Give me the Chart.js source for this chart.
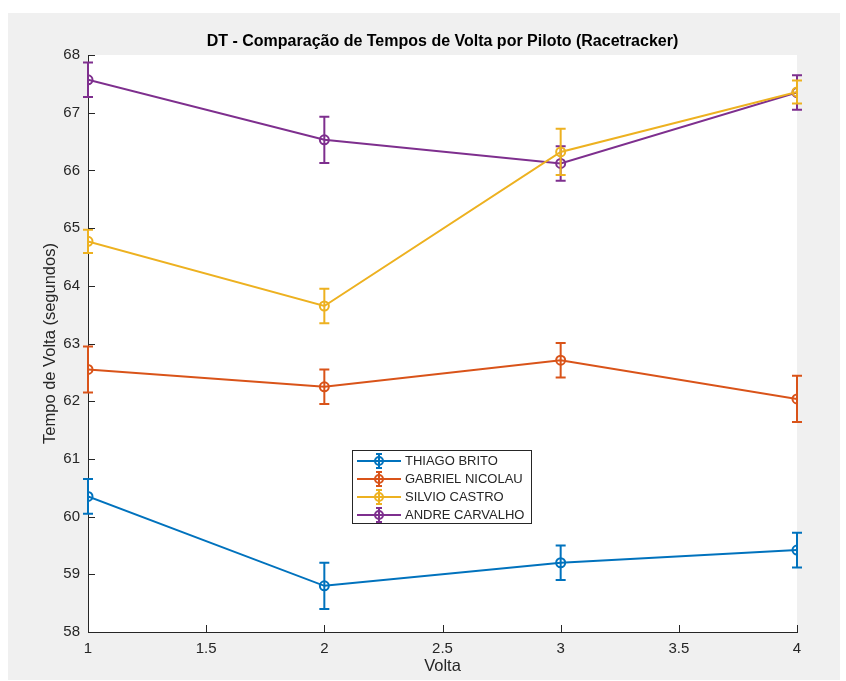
<!DOCTYPE html>
<html>
<head>
<meta charset="utf-8">
<script src="https://cdn.jsdelivr.net/npm/chart.js@4/dist/chart.umd.min.js"></script>
<style>
  html, body { margin: 0; padding: 0; background: #ffffff; }
  #wrap { width: 846px; height: 681px; }
</style>
</head>
<body>
<div id="wrap"><canvas id="c" width="846" height="681"></canvas></div>
<script>
// ---- data ----
const voltas = [1, 2, 3, 4];
const xTicks = [1, 1.5, 2, 2.5, 3, 3.5, 4];
const yTicks = [58, 59, 60, 61, 62, 63, 64, 65, 66, 67, 68];
const pilotos = ['THIAGO BRITO', 'GABRIEL NICOLAU', 'SILVIO CASTRO', 'ANDRE CARVALHO'];
const thiago = [60.35, 58.80, 59.20, 59.42];
const thiagoErr = [0.3, 0.4, 0.3, 0.3];
const gabriel = [62.55, 62.25, 62.71, 62.04];
const gabrielErr = [0.4, 0.3, 0.3, 0.4];
const silvio = [64.77, 63.65, 66.32, 67.36];
const silvioErr = [0.2, 0.3, 0.4, 0.2];
const andre = [67.57, 66.53, 66.12, 67.35];
const andreErr = [0.3, 0.4, 0.3, 0.3];
const cores = ['#0072BD', '#D95319', '#EDB120', '#7E2F8E'];

const series = [thiago, gabriel, silvio, andre];
const errs = [thiagoErr, gabrielErr, silvioErr, andreErr];

const FONT = '"Liberation Sans", Arial, Helvetica, sans-serif';
const AXC = '#262626';

const datasets = series.map((s, k) => ({
  label: pilotos[k],
  data: voltas.map((v, i) => ({ x: v, y: s[i] })),
  errors: errs[k],
  borderColor: cores[k],
  backgroundColor: cores[k],
  borderWidth: 2,
  pointStyle: 'circle',
  pointRadius: 4.5,
  pointBorderWidth: 2,
  pointBackgroundColor: 'rgba(0,0,0,0)',
  pointBorderColor: cores[k],
  tension: 0,
  fill: false
}));

const bgPlugin = {
  id: 'bg',
  beforeDraw(chart) {
    const ctx = chart.ctx, a = chart.chartArea;
    ctx.save();
    ctx.fillStyle = '#ffffff';
    ctx.fillRect(0, 0, chart.width, chart.height);
    ctx.fillStyle = '#f0f0f0';
    ctx.fillRect(8, 13, 832, 667);
    ctx.fillStyle = '#ffffff';
    ctx.fillRect(a.left, a.top, a.right - a.left, a.bottom - a.top);
    ctx.restore();
  }
};

const errPlugin = {
  id: 'errbars',
  afterDatasetDraw(chart, args) {
    const ds = chart.data.datasets[args.index];
    const xs = chart.scales.x, ys = chart.scales.y, ctx = chart.ctx;
    ctx.save();
    ctx.strokeStyle = ds.borderColor;
    ctx.lineWidth = 2;
    ds.data.forEach((p, i) => {
      const e = ds.errors[i];
      const px = xs.getPixelForValue(p.x);
      const yt = ys.getPixelForValue(p.y + e);
      const yb = ys.getPixelForValue(p.y - e);
      ctx.beginPath();
      ctx.moveTo(px, yt); ctx.lineTo(px, yb);
      ctx.moveTo(px - 5, yt); ctx.lineTo(px + 5, yt);
      ctx.moveTo(px - 5, yb); ctx.lineTo(px + 5, yb);
      ctx.stroke();
    });
    ctx.restore();
  }
};

const decoPlugin = {
  id: 'deco',
  afterDraw(chart) {
    const ctx = chart.ctx, a = chart.chartArea;
    const xs = chart.scales.x, ys = chart.scales.y;
    ctx.save();
    // inner ticks
    ctx.strokeStyle = AXC;
    ctx.lineWidth = 1;
    ctx.beginPath();
    xTicks.forEach(v => {
      const px = Math.round(xs.getPixelForValue(v)) + 0.5;
      ctx.moveTo(px, a.bottom); ctx.lineTo(px, a.bottom - 7);
    });
    yTicks.forEach(v => {
      const py = Math.round(ys.getPixelForValue(v)) + 0.5;
      ctx.moveTo(a.left, py); ctx.lineTo(a.left + 7, py);
    });
    ctx.stroke();
    // title
    const cx = (a.left + a.right) / 2;
    ctx.fillStyle = '#000000';
    ctx.font = 'bold 16px ' + FONT;
    ctx.textAlign = 'center';
    ctx.textBaseline = 'middle';
    ctx.fillText('DT - Comparação de Tempos de Volta por Piloto (Racetracker)', cx, 42);
    // axis titles
    ctx.fillStyle = AXC;
    ctx.font = '16.5px ' + FONT;
    ctx.fillText('Volta', cx, 666);
    ctx.save();
    ctx.translate(50, (a.top + a.bottom) / 2);
    ctx.rotate(-Math.PI / 2);
    ctx.fillText('Tempo de Volta (segundos)', 0, 0);
    ctx.restore();
    // legend
    const bx = 352.5, by = 450.5, bw = 179, bh = 73;
    ctx.fillStyle = '#ffffff';
    ctx.fillRect(bx, by, bw, bh);
    ctx.strokeStyle = AXC;
    ctx.lineWidth = 1;
    ctx.strokeRect(bx, by, bw, bh);
    chart.data.datasets.forEach((ds, k) => {
      const ry = 461 + k * 18;
      ctx.strokeStyle = ds.borderColor;
      ctx.lineWidth = 2;
      ctx.beginPath();
      ctx.moveTo(357, ry); ctx.lineTo(401, ry);
      ctx.moveTo(379, ry - 7); ctx.lineTo(379, ry + 7);
      ctx.moveTo(376, ry - 7); ctx.lineTo(382, ry - 7);
      ctx.moveTo(376, ry + 7); ctx.lineTo(382, ry + 7);
      ctx.stroke();
      ctx.beginPath();
      ctx.arc(379, ry, 4, 0, Math.PI * 2);
      ctx.stroke();
      ctx.fillStyle = AXC;
      ctx.font = '13px ' + FONT;
      ctx.textAlign = 'left';
      ctx.textBaseline = 'middle';
      ctx.fillText(ds.label, 405, ry + 0.5);
    });
    ctx.restore();
  }
};

new Chart(document.getElementById('c'), {
  type: 'line',
  data: { datasets },
  options: {
    responsive: false,
    animation: false,
    devicePixelRatio: 1,
    layout: { padding: { left: 0, top: 55, right: 49, bottom: 0 } },
    plugins: { legend: { display: false }, title: { display: false }, tooltip: { enabled: false } },
    scales: {
      x: {
        type: 'linear', min: 1, max: 4,
        afterFit(s) { s.height = 49; },
        afterBuildTicks(s) { s.ticks = xTicks.map(v => ({ value: v })); },
        grid: { display: true, drawOnChartArea: false, drawTicks: false },
        border: { display: true, color: AXC, width: 1 },
        ticks: { color: AXC, font: { family: FONT, size: 15 }, padding: 8, maxRotation: 0,
                 callback: v => String(v) }
      },
      y: {
        type: 'linear', min: 58, max: 68,
        afterFit(s) { s.width = 88; },
        afterBuildTicks(s) { s.ticks = yTicks.map(v => ({ value: v })); },
        grid: { display: true, drawOnChartArea: false, drawTicks: false },
        border: { display: true, color: AXC, width: 1 },
        ticks: { color: AXC, font: { family: FONT, size: 15 }, padding: 8,
                 callback: v => String(v) }
      }
    }
  },
  plugins: [bgPlugin, errPlugin, decoPlugin]
});
</script>
</body>
</html>
